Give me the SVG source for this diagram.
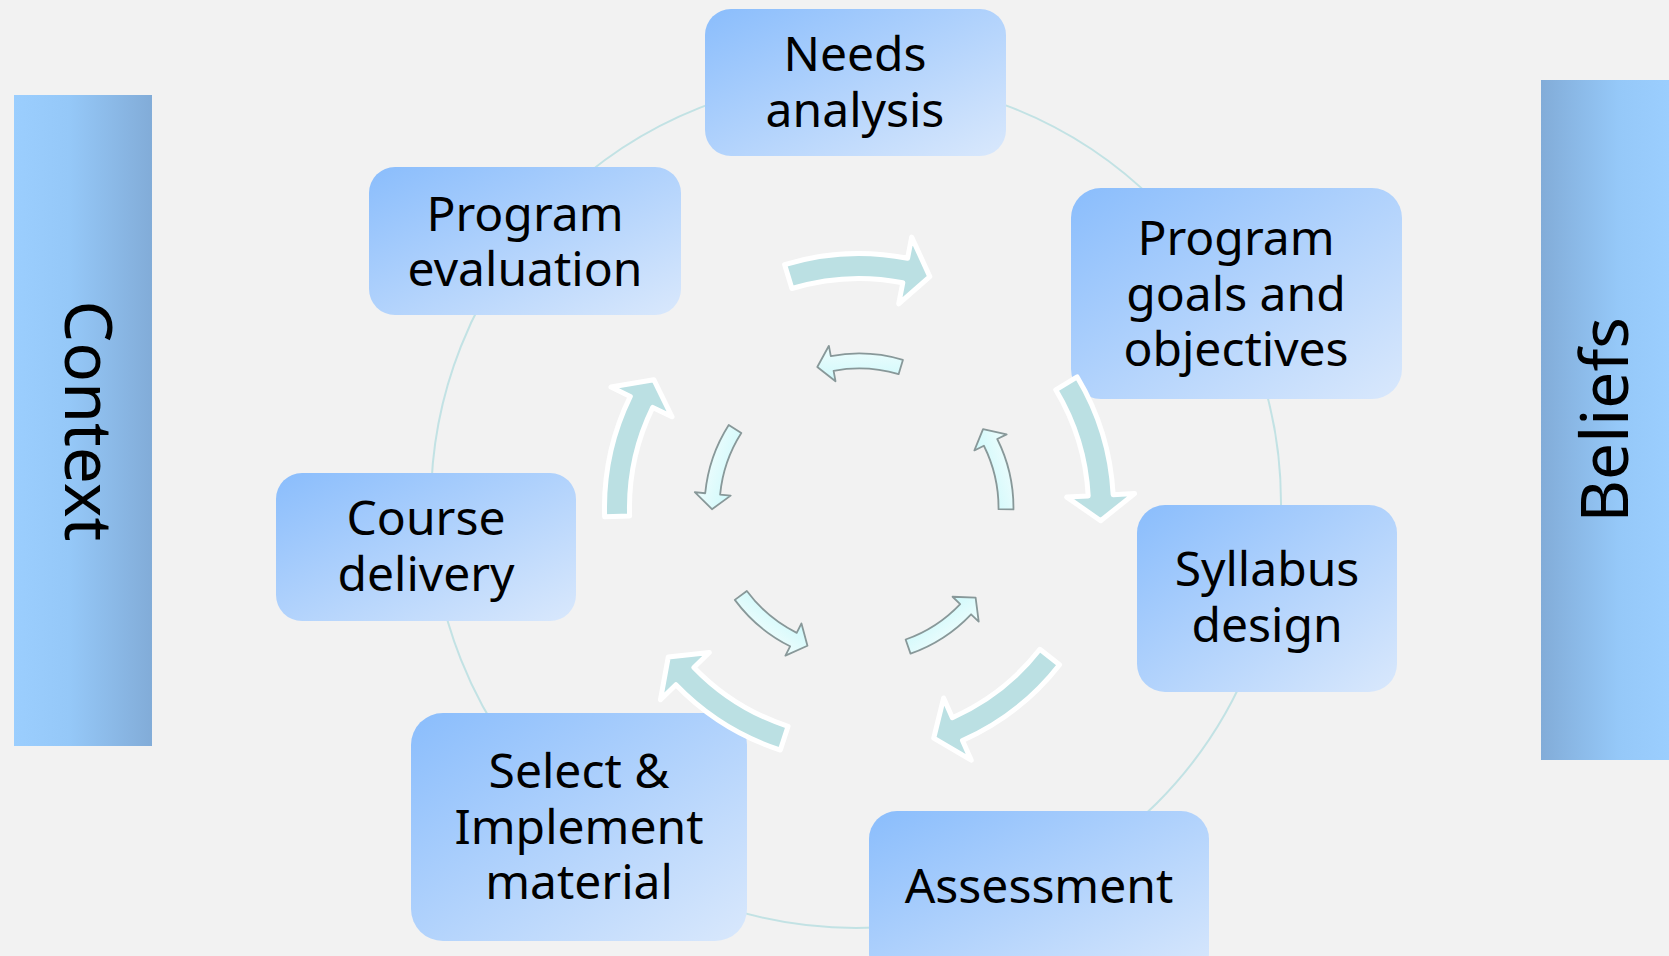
<svg xmlns="http://www.w3.org/2000/svg" xmlns:xlink="http://www.w3.org/1999/xlink" width="1669" height="956" viewBox="0 0 1669 956">
<defs>
<linearGradient id="nodeGrad" x1="0" y1="0" x2="1" y2="1">
<stop offset="0" stop-color="#8abdfc"/>
<stop offset="1" stop-color="#d9e8fc"/>
</linearGradient>
<linearGradient id="ctxGrad" x1="0" y1="0" x2="1" y2="0">
<stop offset="0" stop-color="#9bcefe"/>
<stop offset="0.4" stop-color="#95c8f8"/>
<stop offset="1" stop-color="#82acd8"/>
</linearGradient>
<linearGradient id="belGrad" x1="0" y1="0" x2="1" y2="0">
<stop offset="0" stop-color="#82acd8"/>
<stop offset="0.6" stop-color="#95c8f8"/>
<stop offset="1" stop-color="#9bcefe"/>
</linearGradient>
<linearGradient id="innerGrad" x1="0" y1="0" x2="0" y2="1">
<stop offset="0" stop-color="#effdfd"/>
<stop offset="1" stop-color="#cff9fb"/>
</linearGradient>
<path id="outerArrow" d="M -74.4 -243.4 A 254.5 254.5 0 0 1 48.6 -249.8 L 52.7 -270.9 L 70.8 -231.4 L 39.7 -204.2 L 43.8 -225.3 A 229.5 229.5 0 0 0 -67.1 -219.5 Z"/>
<path id="innerArrow" d="M 43.9 -148.1 A 154.5 154.5 0 0 0 -28.2 -151.9 L -30.1 -162.2 L -41.7 -141.0 L -23.5 -126.8 L -25.4 -137.2 A 139.5 139.5 0 0 1 39.6 -133.8 Z"/>
</defs>
<style>
.node rect { fill: url(#nodeGrad); }
.lbl { font-family: "Noto Sans", "DejaVu Sans", sans-serif; font-size: 48px; fill: #000; text-anchor: middle; }
.side { font-family: "Noto Sans", "DejaVu Sans", sans-serif; font-size: 66px; fill: #000; text-anchor: middle; }
.outer { fill: #bbe0e3; stroke: #ffffff; stroke-width: 5; stroke-linejoin: round; }
.inner { fill: url(#innerGrad); stroke: #889899; stroke-width: 1.8; stroke-linejoin: round; }
.ring { fill: none; stroke: #c2e2e4; stroke-width: 2; }
</style>
<rect x="0" y="0" width="1669" height="956" fill="#f2f2f2"/>

<g id="context">
<rect x="14" y="95" width="138" height="651" fill="url(#ctxGrad)"/>
<text class="side" transform="translate(65,421) rotate(90)">Context</text>
</g>
<g id="beliefs">
<rect x="1541" y="80" width="128" height="680" fill="url(#belGrad)"/>
<text class="side" transform="translate(1628,420) rotate(-90)">Beliefs</text>
</g>

<g id="ring">
<circle class="ring" cx="856" cy="503" r="425"/>
</g>

<g id="needs-analysis" class="node">
<rect x="705" y="9" width="301" height="147" rx="26"/>
<text class="lbl" x="855" y="71">Needs</text>
<text class="lbl" x="855" y="127">analysis</text>
</g>
<g id="program-goals" class="node">
<rect x="1071" y="188" width="331" height="211" rx="30"/>
<text class="lbl" x="1236" y="255">Program</text>
<text class="lbl" x="1236" y="311">goals and</text>
<text class="lbl" x="1236" y="366">objectives</text>
</g>
<g id="syllabus-design" class="node">
<rect x="1137" y="505" width="260" height="187" rx="28"/>
<text class="lbl" x="1267" y="586">Syllabus</text>
<text class="lbl" x="1267" y="642">design</text>
</g>
<g id="assessment" class="node">
<rect x="869" y="811" width="340" height="170" rx="28"/>
<text class="lbl" x="1039" y="903">Assessment</text>
</g>
<g id="select-implement" class="node">
<rect x="411" y="713" width="336" height="228" rx="32"/>
<text class="lbl" x="579" y="788">Select &amp;</text>
<text class="lbl" x="579" y="844">Implement</text>
<text class="lbl" x="579" y="899">material</text>
</g>
<g id="course-delivery" class="node">
<rect x="276" y="473" width="300" height="148" rx="26"/>
<text class="lbl" x="426" y="535">Course</text>
<text class="lbl" x="426" y="591">delivery</text>
</g>
<g id="program-evaluation" class="node">
<rect x="369" y="167" width="312" height="148" rx="26"/>
<text class="lbl" x="525" y="231">Program</text>
<text class="lbl" x="525" y="286">evaluation</text>
</g>

<g id="connectors">
<use href="#outerArrow" class="outer" transform="translate(859,508) rotate(0)"/>
<use href="#outerArrow" class="outer" transform="translate(859,508) rotate(76)"/>
<use href="#outerArrow" class="outer" transform="translate(859,508) rotate(145)"/>
<use href="#outerArrow" class="outer" transform="translate(859,508) rotate(215)"/>
<use href="#outerArrow" class="outer" transform="translate(859,508) rotate(285)"/>
<use href="#innerArrow" class="inner" transform="translate(859,508) rotate(0)"/>
<use href="#innerArrow" class="inner" transform="translate(859,508) rotate(74)"/>
<use href="#innerArrow" class="inner" transform="translate(859,508) rotate(144)"/>
<use href="#innerArrow" class="inner" transform="translate(859,508) rotate(217)"/>
<use href="#innerArrow" class="inner" transform="translate(859,508) rotate(286)"/>
</g>
</svg>
